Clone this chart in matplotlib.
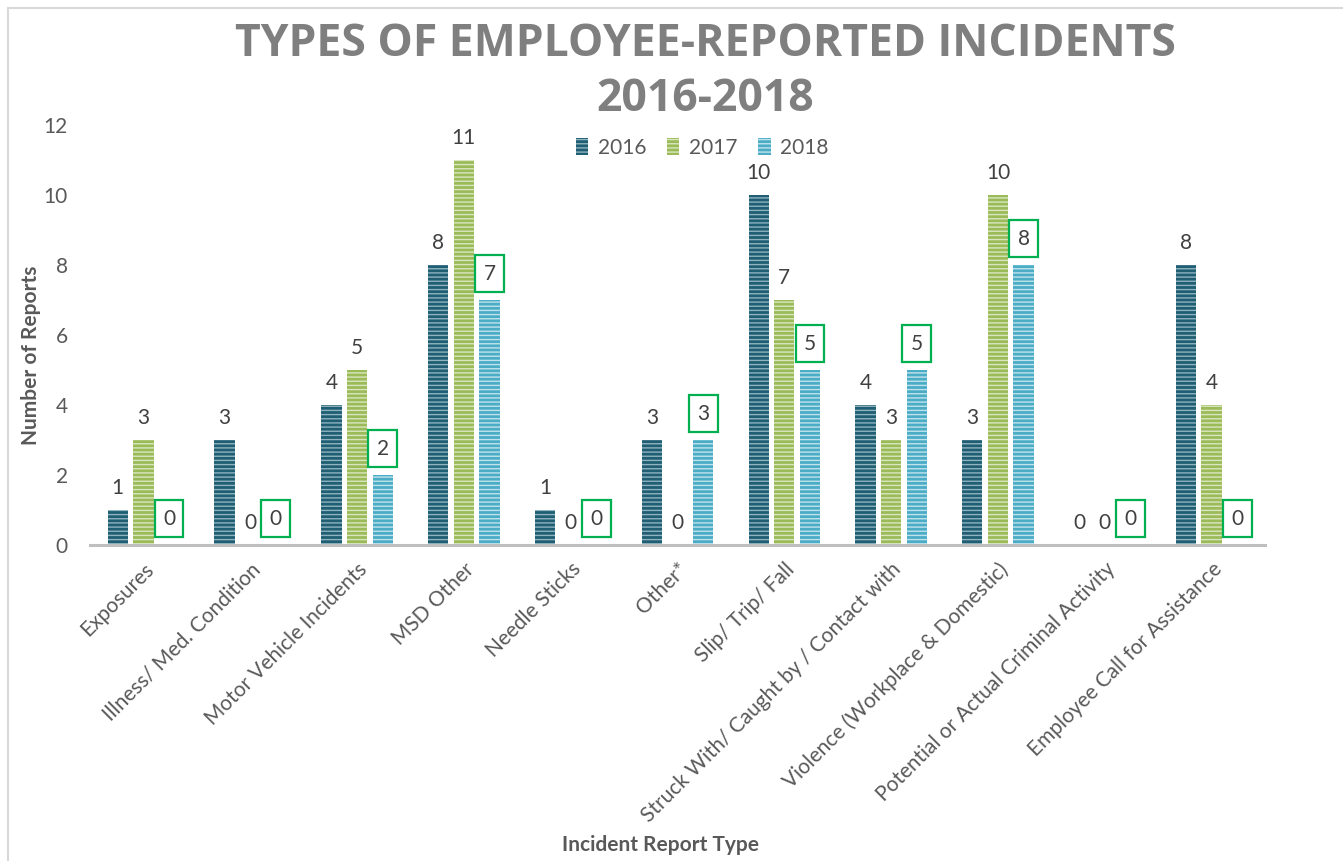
import matplotlib
matplotlib.use("Agg")
import matplotlib.pyplot as plt
import numpy as np
from matplotlib.patches import Rectangle

categories = [
    "Exposures",
    "Illness/ Med. Condition",
    "Motor Vehicle Incidents",
    "MSD Other",
    "Needle Sticks",
    "Other*",
    "Slip/ Trip/ Fall",
    "Struck With/ Caught by / Contact with",
    "Violence (Workplace & Domestic)",
    "Potential or Actual Criminal Activity",
    "Employee Call for Assistance",
]
years = ["2016", "2017", "2018"]
reports_2016 = [1, 3, 4, 8, 1, 3, 10, 4, 3, 0, 8]
reports_2017 = [3, 0, 5, 11, 0, 0, 7, 3, 10, 0, 4]
reports_2018 = [0, 0, 2, 7, 0, 3, 5, 5, 8, 0, 0]

face_colors = ["#1f5e73", "#9bbb59", "#4bacc6"]
stripe_colors = ["#8fb3bf", "#d9e6c0", "#c0e2ec"]

plt.rcParams["font.family"] = ["Lato", "DejaVu Sans"]
plt.rcParams["hatch.linewidth"] = 1.0

fig = plt.figure(figsize=(13.43, 8.61), dpi=100)
ax = fig.add_axes([90 / 1343, 1 - 545 / 861, 1175 / 1343, 420 / 861])

x = np.arange(len(categories))
offsets = [-0.24, 0.0, 0.24]
width = 0.19
series = [reports_2016, reports_2017, reports_2018]

for i, vals in enumerate(series):
    ax.bar(x + offsets[i], vals, width, color=face_colors[i],
           edgecolor=stripe_colors[i], linewidth=0, hatch="----",
           label=years[i], zorder=2)
    for xi, v in zip(x + offsets[i], vals):
        if i == 2:
            # 2018 labels sit in green boxes
            ax.annotate(str(v), (xi, v), xytext=(0, 19), textcoords="offset points",
                        ha="center", va="center", fontsize=15, color="#404040",
                        bbox=dict(boxstyle="square,pad=0.4", fc="white",
                                  ec="#00b050", lw=1.6))
        else:
            ax.annotate(str(v), (xi, v), xytext=(0, 16), textcoords="offset points",
                        ha="center", va="center", fontsize=15, color="#404040")

ax.set_xlim(-0.5, len(categories) - 0.5)
ax.set_ylim(0, 12)
ax.set_yticks(range(0, 13, 2))
ax.set_xticks(x)
ax.set_xticklabels(categories, rotation=45, ha="right", rotation_mode="anchor")
ax.tick_params(axis="both", length=0, labelsize=15, labelcolor="#595959")
ax.tick_params(axis="x", pad=10)
ax.tick_params(axis="y", pad=16)
for s in ["top", "right", "left"]:
    ax.spines[s].set_visible(False)
ax.spines["bottom"].set_color("#bfbfbf")
ax.spines["bottom"].set_linewidth(2.2)

fig.text(31 / 1343, 1 - 355 / 861, "Number of Reports", rotation=90,
         ha="center", va="center", fontsize=15, fontweight="bold", color="#595959")
fig.text(660 / 1343, 1 - 845 / 861, "Incident Report Type",
         ha="center", va="center", fontsize=15, fontweight="bold", color="#595959")

fig.text(705 / 1343, 1 - 72 / 861, "TYPES OF EMPLOYEE-REPORTED INCIDENTS\n2016-2018",
         ha="center", va="center", fontsize=32, fontweight="bold", color="#7f7f7f",
         family=["Open Sans", "DejaVu Sans"], linespacing=1.3)

ax.legend(loc="center", bbox_to_anchor=(702 / 1343, 1 - 148 / 861),
          bbox_transform=fig.transFigure, ncol=3, frameon=False, fontsize=15,
          handlelength=0.6, handleheight=0.9, handletextpad=0.45, columnspacing=1.0,
          labelcolor="#595959")

# chart border (light gray, only top and left edges fall inside the image)
fig.patches.append(Rectangle((8 / 1343, -0.1), 1.2, 1 - 8 / 861 + 0.1,
                             transform=fig.transFigure, fill=False,
                             ec="#d9d9d9", lw=1.5))

fig.savefig("out.png", dpi=100)
